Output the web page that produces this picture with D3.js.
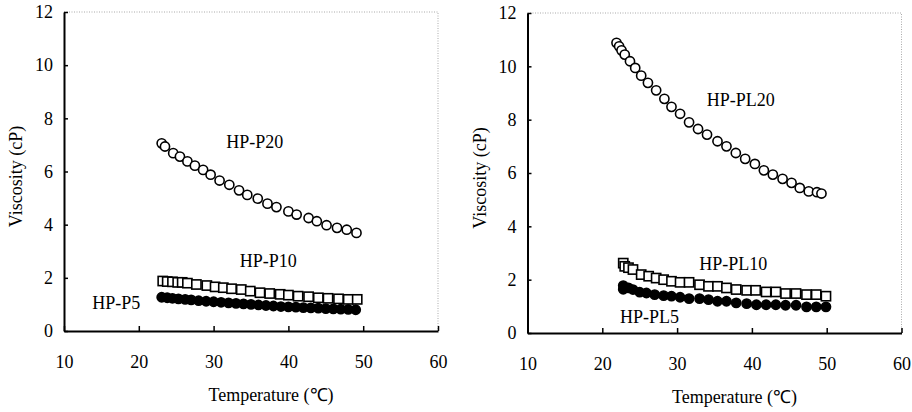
<!DOCTYPE html>
<html>
<head>
<meta charset="utf-8">
<script src="https://cdn.jsdelivr.net/npm/d3@7"></script>
<style>
  body { margin: 0; background: #fff; }
  svg { display: block; font-family: "Liberation Serif", "Times New Roman", serif; }
  svg text { font-family: "Liberation Serif", "Times New Roman", serif; }
</style>
</head>
<body>
<svg id="chart" width="912" height="412"></svg>
<script>
// left panel: HP-P series
const p20Temp = [23.06, 23.5, 24.6, 25.5, 26.5, 27.5, 28.6, 29.6, 30.8, 32.1, 33.4, 34.5, 35.9, 37.2, 38.4, 40.0, 41.1, 42.7, 43.8, 45.1, 46.5, 47.8, 49.1];
const p20Visc = [7.06, 6.94, 6.69, 6.56, 6.38, 6.22, 6.06, 5.88, 5.66, 5.5, 5.29, 5.12, 4.98, 4.79, 4.66, 4.5, 4.38, 4.25, 4.13, 3.98, 3.88, 3.81, 3.69];

const p10Temp = [23.2, 23.8, 24.5, 25.2, 25.8, 26.5, 27.7, 29.1, 30.2, 31.3, 32.4, 33.7, 34.9, 36.2, 37.5, 38.9, 40.0, 41.3, 42.7, 44.0, 45.3, 46.7, 48.0, 49.2];
const p10Visc = [1.88, 1.86, 1.85, 1.83, 1.83, 1.8, 1.75, 1.71, 1.66, 1.63, 1.59, 1.56, 1.5, 1.44, 1.41, 1.38, 1.35, 1.31, 1.29, 1.25, 1.23, 1.21, 1.19, 1.19];

const p5Temp = [23.06, 23.8, 24.5, 25.3, 26.2, 27.0, 28.0, 29.0, 30.0, 31.0, 32.0, 33.0, 34.0, 35.0, 36.0, 37.0, 38.0, 39.0, 40.0, 41.0, 42.0, 43.0, 44.0, 45.0, 46.0, 47.0, 48.0, 49.0];
const p5Visc = [1.27, 1.25, 1.23, 1.21, 1.19, 1.17, 1.14, 1.12, 1.1, 1.08, 1.06, 1.04, 1.02, 1.0, 0.98, 0.96, 0.94, 0.92, 0.91, 0.9, 0.88, 0.87, 0.86, 0.84, 0.83, 0.82, 0.81, 0.8];

// right panel: HP-PL series
const pl20Temp = [21.9, 22.25, 22.57, 23.0, 23.7, 24.4, 25.2, 26.1, 27.2, 28.3, 29.25, 30.4, 31.6, 32.8, 34.0, 35.4, 36.6, 37.85, 39.1, 40.4, 41.6, 42.8, 44.1, 45.3, 46.4, 47.6, 48.7, 49.3];
const pl20Visc = [10.88, 10.75, 10.6, 10.44, 10.19, 9.94, 9.65, 9.38, 9.1, 8.78, 8.48, 8.22, 7.9, 7.65, 7.44, 7.19, 7.0, 6.75, 6.53, 6.34, 6.1, 5.94, 5.78, 5.63, 5.44, 5.31, 5.28, 5.23];

const pl10Temp = [22.8, 23.0, 23.5, 24.1, 25.2, 26.2, 27.2, 28.2, 29.25, 30.4, 31.6, 33.0, 34.2, 35.4, 36.6, 37.9, 39.3, 40.5, 41.9, 43.2, 44.5, 45.9, 47.3, 48.6, 49.9];
const pl10Visc = [2.62, 2.5, 2.45, 2.38, 2.19, 2.13, 2.06, 2.0, 1.94, 1.9, 1.9, 1.81, 1.75, 1.75, 1.69, 1.63, 1.6, 1.6, 1.54, 1.54, 1.48, 1.48, 1.44, 1.44, 1.38];

const pl5Temp = [22.8, 22.8, 23.5, 24.1, 25.0, 25.9, 27.0, 28.2, 29.25, 30.4, 31.6, 33.0, 34.2, 35.4, 36.6, 37.9, 39.3, 40.6, 41.9, 43.2, 44.5, 45.9, 47.3, 48.6, 49.9];
const pl5Visc = [1.78, 1.64, 1.69, 1.63, 1.53, 1.5, 1.44, 1.4, 1.38, 1.34, 1.29, 1.29, 1.25, 1.19, 1.19, 1.13, 1.1, 1.06, 1.06, 1.06, 1.04, 1.04, 0.98, 0.98, 0.98];

const xTicks = [10, 20, 30, 40, 50, 60];
const yTicks = [0, 2, 4, 6, 8, 10, 12];

const svg = d3.select("#chart");

function drawPanel(left, top, bottom, series, labels) {
  const right = left + 374;
  const x = d3.scaleLinear().domain([10, 60]).range([left, right]);
  const y = d3.scaleLinear().domain([0, 12]).range([bottom, top]);
  const g = svg.append("g");

  // dotted grey frame on top and right
  g.append("path")
    .attr("d", `M${left},${top}H${right}V${bottom}`)
    .attr("fill", "none")
    .attr("stroke", "#aaa")
    .attr("stroke-width", 1)
    .attr("stroke-dasharray", "1,1.5");

  const xAxis = g.append("g")
    .attr("transform", `translate(0,${bottom})`)
    .call(d3.axisBottom(x).tickValues(xTicks).tickSize(-5).tickPadding(24).tickSizeOuter(0));
  const yAxis = g.append("g")
    .attr("transform", `translate(${left},0)`)
    .call(d3.axisLeft(y).tickValues(yTicks).tickSize(-4).tickPadding(11).tickSizeOuter(0));
  [xAxis, yAxis].forEach((a) => {
    a.attr("font-size", 18);
    a.select(".domain").attr("stroke", "#000").attr("stroke-width", 2);
    a.selectAll(".tick line").attr("stroke", "#000").attr("stroke-width", 1.5);
    a.selectAll(".tick text")
      .attr("fill", "#000")
      .style("font-family", "'Liberation Serif', serif")
      .style("font-size", "18px");
  });

  g.append("text")
    .attr("x", (left + right) / 2 + 20)
    .attr("y", bottom + 70)
    .attr("text-anchor", "middle")
    .attr("font-size", 18)
    .text("Temperature (℃)");

  g.append("text")
    .attr("transform", `translate(${left - 42},${(top + bottom) / 2 + 5}) rotate(-90)`)
    .attr("text-anchor", "middle")
    .attr("font-size", 18)
    .text("Viscosity (cP)");

  series.forEach((s) => {
    const pts = s.temp.map((t, i) => [x(t), y(s.visc[i])]);
    if (s.shape === "square") {
      g.append("g").selectAll("rect")
        .data(pts)
        .join("rect")
        .attr("x", (d) => d[0] - 4.6)
        .attr("y", (d) => d[1] - 4.6)
        .attr("width", 9.2)
        .attr("height", 9.2)
        .attr("fill", "#fff")
        .attr("stroke", "#000")
        .attr("stroke-width", 1.6);
    } else {
      g.append("g").selectAll("circle")
        .data(pts)
        .join("circle")
        .attr("cx", (d) => d[0])
        .attr("cy", (d) => d[1])
        .attr("r", 4.6)
        .attr("fill", s.shape === "filled" ? "#000" : "#fff")
        .attr("stroke", "#000")
        .attr("stroke-width", 1.6);
    }
  });

  labels.forEach((l) => {
    g.append("text")
      .attr("x", x(l.t))
      .attr("y", y(l.v))
      .attr("text-anchor", "middle")
      .attr("dominant-baseline", "central")
      .attr("font-size", 18)
      .text(l.text);
  });
}

drawPanel(64, 12, 331,
  [
    { temp: p20Temp, visc: p20Visc, shape: "open" },
    { temp: p10Temp, visc: p10Visc, shape: "square" },
    { temp: p5Temp, visc: p5Visc, shape: "filled" },
  ],
  [
    { text: "HP-P20", t: 35.5, v: 7.1 },
    { text: "HP-P10", t: 37.3, v: 2.65 },
    { text: "HP-P5", t: 17.0, v: 1.05 },
  ]);

drawPanel(527.5, 13, 333,
  [
    { temp: pl20Temp, visc: pl20Visc, shape: "open" },
    { temp: pl10Temp, visc: pl10Visc, shape: "square" },
    { temp: pl5Temp, visc: pl5Visc, shape: "filled" },
  ],
  [
    { text: "HP-PL20", t: 38.5, v: 8.75 },
    { text: "HP-PL10", t: 37.5, v: 2.6 },
    { text: "HP-PL5", t: 26.3, v: 0.6 },
  ]);
</script>
</body>
</html>
